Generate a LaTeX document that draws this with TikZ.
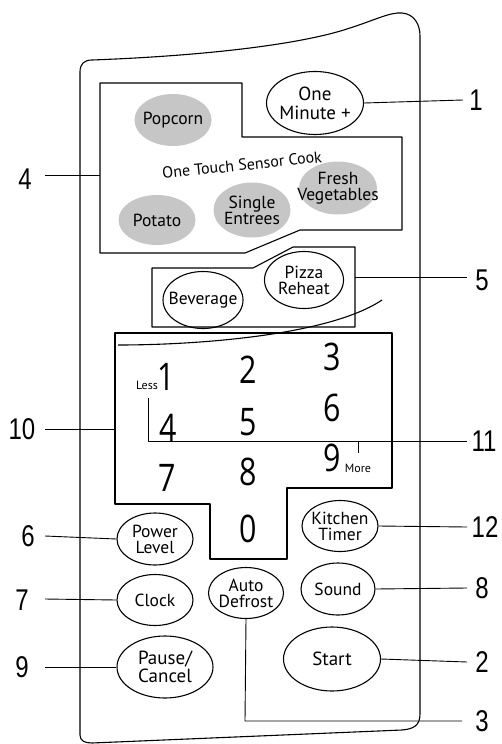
\documentclass[tikz,border=0pt]{standalone}
\usepackage{fontspec}
\setmainfont{PT Sans}
\newfontfamily\labfont[FakeStretch=0.8]{Liberation Sans}
\newfontfamily\digfont[FakeStretch=0.8]{Open Sans}
\usetikzlibrary{shapes.geometric}
\begin{document}
\begin{tikzpicture}[x=1pt,y=-1pt,line width=1.1pt,line join=round,
  keyshape/.style={draw,ellipse,inner sep=0pt},
  gkeyshape/.style={fill=gray!45,ellipse,inner sep=0pt},
  keytext/.style={align=center,inner sep=0pt,font=\fontsize{17.5}{16}\selectfont},
  bigtext/.style={align=center,inner sep=0pt,font=\fontsize{19}{19}\selectfont},
  lab/.style={font=\labfont\fontsize{30}{30}\selectfont,inner sep=0pt},
  dig/.style={font=\digfont\fontsize{38}{38}\selectfont,inner sep=0pt},
  small/.style={font=\fontsize{12}{12}\selectfont,inner sep=0pt},
  lead/.style={line width=0.9pt}]
\useasboundingbox (0,0) rectangle (502,744);
% outer panel
\draw (80,735) -- (80,72) .. controls (80,64) and (84,60) .. (92,60)
  .. controls (200,56) and (300,45) .. (350,28)
  .. controls (375,20) and (390,12) .. (402,13)
  .. controls (414,14) and (420,24) .. (420,36) -- (420,714)
  .. controls (420,726) and (413,729) .. (402,730) -- (92,743)
  .. controls (85,743) and (80,741) .. (80,735) -- cycle;
% group boxes
\draw (100,83) -- (242,83) -- (242,137) -- (402,137) -- (402,230) -- (300,230) -- (245,253) -- (100,253) -- cycle;
\draw (152,268) -- (253,268) -- (293,247) -- (355,247) -- (355,327) -- (152,327) -- cycle;
\draw (115,333) -- (392,333) -- (392,488) -- (287,488) -- (287,559) -- (210,559) -- (210,504) -- (115,504) -- cycle;
\draw (382,300) .. controls (330,335) and (200,345) .. (118,345);
\coordinate (b4) at (100,175);
\coordinate (b5) at (355,277);
\coordinate (b10) at (115,429);
% sensor keys
\node[gkeyshape,minimum width=77pt,minimum height=52pt] (popcorn) at (173,120) {};
\node[keytext] at (popcorn) {Popcorn};
\node[gkeyshape,minimum width=77pt,minimum height=50pt] (potato) at (157,220) {};
\node[keytext] at (potato) {Potato};
\node[gkeyshape,minimum width=77pt,minimum height=55pt] (single) at (252,210) {};
\node[keytext] at (single) {Single\\Entrees};
\node[gkeyshape,minimum width=78pt,minimum height=53pt] (fresh) at (338,188) {};
\node[keytext] at (fresh) {Fresh\\Vegetables};
\node[inner sep=0pt,rotate=6,font=\fontsize{16}{16}\selectfont] (sensor) at (242,165) {One Touch Sensor Cook};
% other keys
\node[keyshape,minimum width=97pt,minimum height=63pt] (onemin) at (315,103) {};
\node[bigtext] at (onemin) {One\\Minute +};
\node[keyshape,minimum width=80pt,minimum height=57pt] (bev) at (203,300) {};
\node[keytext] at (bev) {Beverage};
\node[keyshape,minimum width=79pt,minimum height=57pt] (pizza) at (304,280) {};
\node[keytext] at (pizza) {Pizza\\Reheat};
\node[keyshape,minimum width=76pt,minimum height=52pt] (power) at (155,539) {};
\node[keytext] at (power) {Power\\Level};
\node[keyshape,minimum width=76pt,minimum height=51pt] (kitchen) at (340,526) {};
\node[keytext] at (kitchen) {Kitchen\\Timer};
\node[keyshape,minimum width=76pt,minimum height=51pt] (clock) at (155,600) {};
\node[keytext] at (clock) {Clock};
\node[keyshape,minimum width=75pt,minimum height=51pt] (defrost) at (246,593) {};
\node[keytext] at (defrost) {Auto\\Defrost};
\node[keyshape,minimum width=74pt,minimum height=52pt] (sound) at (338,589) {};
\node[keytext] at (sound) {Sound};
\node[keyshape,minimum width=96pt,minimum height=62pt] (pause) at (165,667) {};
\node[keytext,font=\fontsize{19}{18}\selectfont] at (pause) {Pause/\\Cancel};
\node[keyshape,minimum width=97pt,minimum height=64pt] (start) at (332,659) {};
\node[keytext,font=\fontsize{19}{18}\selectfont] at (start) {Start};
% digits
\node[dig] (d1) at (166,377) {1};
\node[dig] (d2) at (248,370) {2};
\node[dig] (d3) at (332,357) {3};
\node[dig] (d4) at (168,428) {4};
\node[dig] (d5) at (248,422) {5};
\node[dig] (d6) at (332,408) {6};
\node[dig] (d7) at (167,478) {7};
\node[dig] (d8) at (248,472) {8};
\node[dig] (d9) at (332,458) {9};
\node[dig] (d0) at (248,529) {0};
\node[small] (less) at (147,385) {Less};
\node[small] (more) at (358,468) {More};
% labels
\node[lab] (l1) at (476,100) {1};
\node[lab] (l4) at (25,179) {4};
\node[lab] (l5) at (482,280) {5};
\node[lab] (l10) at (22,429) {10};
\node[lab] (l11) at (484,441) {11};
\node[lab] (l6) at (28,536) {6};
\node[lab] (l12) at (485,527) {12};
\node[lab] (l7) at (22,600) {7};
\node[lab] (l8) at (482,588) {8};
\node[lab] (l9) at (22,667) {9};
\node[lab] (l2) at (482,662) {2};
\node[lab] (l3) at (482,721) {3};
% leaders
\coordinate (c1) at (463,100);
\coordinate (c4) at (45,175);
\coordinate (c5) at (467,277);
\coordinate (c10) at (45,429);
\coordinate (c11) at (467,441);
\coordinate (c11a) at (148,398);
\coordinate (c11b) at (148,441);
\coordinate (c11t) at (358,441);
\coordinate (c11u) at (358,453);
\coordinate (c6) at (45,536);
\coordinate (c12) at (467,527);
\coordinate (c7) at (45,599);
\coordinate (c8) at (467,588);
\coordinate (c9) at (45,667);
\coordinate (c2) at (467,662);
\coordinate (c3a) at (245,721);
\coordinate (c3) at (462,721);
\draw[lead] (onemin.east) -- (c1);
\draw[lead] (c4) -- (b4);
\draw[lead] (b5) -- (c5);
\draw[lead] (c10) -- (b10);
\draw[lead] (c11a) -- (c11b) -- (c11);
\draw[lead] (c11t) -- (c11u);
\draw[lead] (c6) -- (power.west);
\draw[lead] (kitchen.east) -- (c12);
\draw[lead] (c7) -- (clock.west);
\draw[lead] (sound.east) -- (c8);
\draw[lead] (c9) -- (pause.west);
\draw[lead] (start.east) -- (c2);
\draw[lead] (defrost.south) -- (c3a) -- (c3);
\end{tikzpicture}
\end{document}
